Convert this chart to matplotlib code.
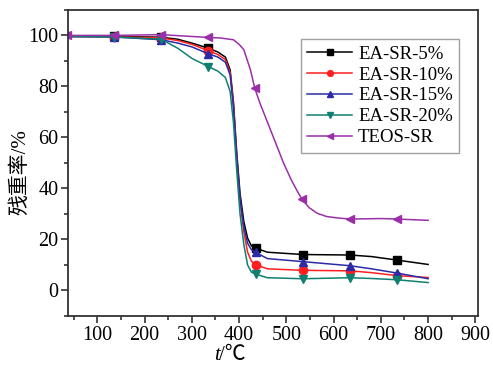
import matplotlib
matplotlib.use('Agg')
import matplotlib.pyplot as plt
from matplotlib.ticker import MultipleLocator

plt.rcParams['font.family'] = ['Liberation Serif', 'Noto Sans CJK SC', 'DejaVu Sans']

# temperatures (deg C) and residual mass (%)
t_ea = [35, 135, 235, 270, 300, 335, 355, 371, 381, 388, 395, 402, 410, 418, 426, 435,
        460, 535, 635, 680, 735, 800]
ea5 = [99.6, 99.6, 99.3, 98.5, 97, 95.0, 93.5, 91.5, 86.5, 74, 54, 38, 27, 20.5, 17.5, 16.6,
       15, 14.1, 13.9, 13.3, 11.9, 10.2]
ea10 = [99.6, 99.5, 99.0, 98, 96.5, 94.0, 92.5, 90.5, 85.5, 73, 52, 35, 23, 15, 11.5, 10.1,
        8.5, 7.9, 7.7, 7.0, 5.8, 5.1]
ea15 = [99.6, 99.4, 98.3, 97, 95.5, 92.8, 91.5, 89.5, 84.5, 72, 52, 36, 25, 18.5, 16, 14.9,
        12.5, 11.3, 9.7, 8.5, 6.8, 4.6]
ea20 = [99.6, 99.4, 98.5, 95, 91, 87.8, 86, 83.5, 78, 66, 47, 30, 18, 10, 7.2, 6.4,
        5, 4.6, 5.0, 4.7, 4.2, 3.1]
ea_marks = [1, 2, 5, 15, 17, 18, 20]

t_teos = [35, 135, 235, 335, 360, 388, 400, 410, 424, 433, 445, 460, 477, 494, 510, 522,
          533, 548, 565, 585, 610, 635, 700, 735, 800]
teos = [100, 100, 100.3, 99.2, 99, 98.3, 96.5, 94.4, 86.5, 79.4, 73, 66, 58, 50, 43.5, 39.3,
        35.8, 32.5, 30.3, 29, 28.4, 28, 28.2, 28, 27.5]
teos_marks = [0, 1, 2, 3, 9, 16, 21, 23]

fig = plt.figure(figsize=(4.93, 3.67), dpi=100)
ax = fig.add_axes([0.138, 0.139, 0.832, 0.834])

ax.plot(t_ea, ea5, color='black', marker='s', ms=6, lw=1.1, markevery=ea_marks, label='EA-SR-5%')
ax.plot(t_ea, ea10, color='#ff1f1f', marker='o', ms=6, lw=1.1, markevery=ea_marks, label='EA-SR-10%')
ax.plot(t_ea, ea15, color='#2b2ba8', marker='^', ms=6, lw=1.1, markevery=ea_marks, label='EA-SR-15%')
ax.plot(t_ea, ea20, color='#0f8070', marker='v', ms=6, lw=1.1, markevery=ea_marks, label='EA-SR-20%')
ax.plot(t_teos, teos, color='#9a2fa8', marker='<', ms=6, lw=1.1, markevery=teos_marks, label='TEOS-SR')

ax.set_xlim(38, 906)
ax.set_ylim(-10, 110)
ax.xaxis.set_major_locator(MultipleLocator(100))
ax.xaxis.set_minor_locator(MultipleLocator(50))
ax.yaxis.set_major_locator(MultipleLocator(20))
ax.yaxis.set_minor_locator(MultipleLocator(10))
ax.tick_params(which='both', direction='out', labelsize=14.5, width=1.2, color='#333333', pad=2)
ax.tick_params(which='major', length=5)
ax.tick_params(which='minor', length=3)
for s in ax.spines.values():
    s.set_linewidth(1.3)
    s.set_color('#333333')

# x label: italic t followed by /℃
tl = ax.text(0.355, -0.098, 't', transform=ax.transAxes, fontsize=15, style='italic',
             ha='left', va='top')
ax.annotate('/℃', xy=(1, 0), xycoords=tl, xytext=(0, 0), textcoords='offset points',
            fontsize=15, ha='left', va='bottom')
ax.set_ylabel('残重率/%', fontsize=15)
ax.yaxis.set_label_coords(-0.093, 0.47)

leg = ax.legend(loc='upper right', bbox_to_anchor=(0.954, 0.905), borderaxespad=0,
                fontsize=13.5, fancybox=False, edgecolor='#888888', handlelength=2.4,
                handletextpad=0.3, borderpad=0.35, labelspacing=0.2, markerscale=0.7)
leg.get_frame().set_linewidth(1.0)

fig.savefig('out.png', dpi=100)
